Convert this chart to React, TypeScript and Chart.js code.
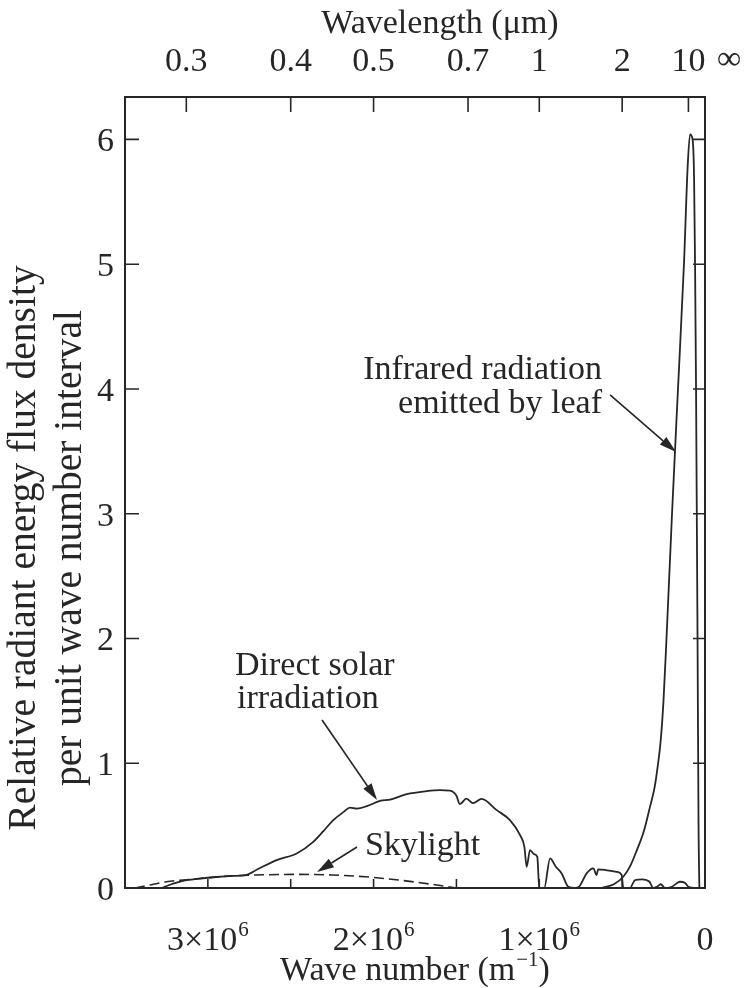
import React, { useEffect, useRef } from "react";
import { Chart, registerables } from "chart.js";

Chart.register(...registerables);

const FONT = "'Liberation Serif', 'Times New Roman', serif";
const INK = "#262626";

// Direct solar irradiation: wave number (m^-1) and relative flux density
const solarWaveNumber = [
  3.28e6, 3.22e6, 3.15e6, 3.05e6, 2.95e6, 2.85e6, 2.77e6, 2.7e6, 2.585e6, 2.464e6,
  2.364e6, 2.3e6, 2.243e6, 2.18e6, 2.142e6, 2.1e6, 2.041e6, 1.961e6, 1.9e6, 1.8e6,
  1.68e6, 1.6e6, 1.539e6, 1.5e6, 1.479e6, 1.44e6, 1.4e6, 1.348e6, 1.257e6, 1.177e6,
  1.116e6, 1.09e6, 1.076e6, 1.056e6, 1.03e6, 1.012e6, 1.0e6, 0.97e6, 0.935e6, 0.9e6,
  0.865e6, 0.825e6, 0.785e6, 0.76e6, 0.714e6, 0.674e6, 0.654e6, 0.645e6, 0.6e6, 0.533e6,
  0.503e6, 0.493e6, 0.453e6, 0.422e6, 0.38e6, 0.335e6, 0.312e6, 0.29e6, 0.267e6, 0.241e6,
  0.2e6, 0.151e6, 0.12e6, 0.1e6, 0.05e6,
];
const solarFlux = [
  0, 0.03, 0.058, 0.075, 0.088, 0.097, 0.104, 0.15, 0.224, 0.277,
  0.37, 0.46, 0.544, 0.61, 0.645, 0.637, 0.656, 0.698, 0.709, 0.752,
  0.776, 0.784, 0.78, 0.74, 0.672, 0.717, 0.68, 0.715, 0.624, 0.544,
  0.424, 0.33, 0.17, 0.304, 0.27, 0.25, 0, 0, 0.237, 0.17,
  0.117, 0.01, 0, 0.01, 0.117, 0.157, 0.104, 0.149, 0.144, 0.13,
  0.104, 0, 0, 0.064, 0.069, 0.05, 0, 0.01, 0.03, 0,
  0.01, 0.05, 0.04, 0.01, 0,
];

// Skylight
const skyWaveNumber = [3.44e6, 3.35e6, 3.25e6, 3.15e6, 3.0e6, 2.85e6, 2.65e6, 2.45e6, 2.25e6, 2.05e6, 1.85e6, 1.65e6, 1.5e6];
const skyFlux = [0, 0.024, 0.05, 0.064, 0.082, 0.098, 0.106, 0.109, 0.104, 0.09, 0.064, 0.03, 0];

// Infrared radiation emitted by leaf
const leafWaveNumber = [
  0.623e6, 0.55e6, 0.493e6, 0.45e6, 0.412e6, 0.37e6, 0.332e6, 0.305e6, 0.291e6, 0.2675e6,
  0.2505e6, 0.2323e6, 0.199e6, 0.163e6, 0.127e6, 0.104e6, 0.09e6, 0.075e6, 0.066e6, 0.06e6,
  0.054e6, 0.045e6, 0.039e6, 0.034e6,
];
const leafFlux = [
  0, 0.03, 0.09, 0.18, 0.3, 0.45, 0.65, 0.8, 0.92, 1.18,
  1.5, 2.0, 3.0, 4.0, 5.0, 5.8, 6.04, 6.0, 5.7, 5.0,
  4.0, 2.0, 0.5, 0,
];

// Axes
const yTickValues = [0, 1, 2, 3, 4, 5, 6];
const bottomTickValues = [0.5e6, 1.0e6, 1.5e6, 2.0e6, 2.5e6, 3.0e6];
const bottomLabelValues = [3e6, 2e6, 1e6, 0];
const bottomLabelBase = ["3\u00d710", "2\u00d710", "1\u00d710", "0"];
const bottomLabelExp = ["6", "6", "6", ""];
const topTickWaveNumbers = [3.13e6, 2.5e6, 2.0e6, 1.43e6, 1.0e6, 0.5e6, 0.1e6];
const topTickLabels = ["0.3", "0.4", "0.5", "0.7", "1", "2", "10"];
const topInfinityLabel = "\u221e";

// Annotations (data coordinates: wave number, flux)
const labelTexts = [
  { text: "Infrared radiation", x: 0.6216e6, y: 4.08, align: "right" },
  { text: "emitted by leaf", x: 0.6216e6, y: 3.807, align: "right" },
  { text: "Direct solar", x: 2.836e6, y: 1.707, align: "left" },
  { text: "irradiation", x: 2.824e6, y: 1.443, align: "left" },
  { text: "Skylight", x: 2.052e6, y: 0.2645, align: "left" },
];
const arrows = [
  { from: [0.573e6, 3.952], to: [0.175e6, 3.495] },
  { from: [2.311e6, 1.347], to: [1.979e6, 0.705] },
  { from: [2.1e6, 0.329], to: [2.341e6, 0.128] },
];

type Part = { t: string; sup?: boolean };

function drawParts(ctx: CanvasRenderingContext2D, parts: Part[], cx: number, baseline: number, size: number) {
  const supSize = Math.round(size * 0.62);
  const widths = parts.map((p) => {
    ctx.font = `${p.sup ? supSize : size}px ${FONT}`;
    return ctx.measureText(p.t).width + (p.sup ? 1 : 0);
  });
  const total = widths.reduce((a, b) => a + b, 0);
  let x = cx - total / 2;
  ctx.textAlign = "left";
  ctx.textBaseline = "alphabetic";
  parts.forEach((p, i) => {
    ctx.font = `${p.sup ? supSize : size}px ${FONT}`;
    ctx.fillText(p.t, x + (p.sup ? 1 : 0), p.sup ? baseline - size * 0.42 : baseline);
    x += widths[i];
  });
}

const overlay = {
  id: "overlay",
  afterDraw(chart: any) {
    const { ctx, chartArea: a, scales } = chart;
    const xs = scales.x;
    const ys = scales.y;
    ctx.save();
    ctx.strokeStyle = INK;
    ctx.fillStyle = INK;

    // frame
    ctx.lineWidth = 2;
    ctx.strokeRect(a.left, a.top, a.right - a.left, a.bottom - a.top);

    // inward ticks
    ctx.lineWidth = 1.6;
    ctx.beginPath();
    yTickValues.forEach((v) => {
      if (v === 0) return;
      const y = ys.getPixelForValue(v);
      ctx.moveTo(a.left, y);
      ctx.lineTo(a.left + 14, y);
      ctx.moveTo(a.right, y);
      ctx.lineTo(a.right - 12, y);
    });
    bottomTickValues.forEach((k) => {
      const x = xs.getPixelForValue(k);
      ctx.moveTo(x, a.bottom);
      ctx.lineTo(x, a.bottom - 9);
    });
    topTickWaveNumbers.forEach((k) => {
      const x = xs.getPixelForValue(k);
      ctx.moveTo(x, a.top);
      ctx.lineTo(x, a.top + 15);
    });
    ctx.stroke();

    // y tick labels
    ctx.font = `34px ${FONT}`;
    ctx.textAlign = "right";
    ctx.textBaseline = "alphabetic";
    yTickValues.forEach((v) => {
      ctx.fillText(String(v), a.left - 11, ys.getPixelForValue(v) + 12);
    });

    // bottom tick labels
    bottomLabelValues.forEach((k, i) => {
      const parts: Part[] = [{ t: bottomLabelBase[i] }];
      if (bottomLabelExp[i]) parts.push({ t: bottomLabelExp[i], sup: true });
      drawParts(ctx, parts, xs.getPixelForValue(k), a.bottom + 62, 34);
    });

    // top tick labels
    ctx.font = `34px ${FONT}`;
    ctx.textAlign = "center";
    topTickWaveNumbers.forEach((k, i) => {
      ctx.fillText(topTickLabels[i], xs.getPixelForValue(k), a.top - 26);
    });
    ctx.fillText(topInfinityLabel, xs.getPixelForValue(0) + 24, a.top - 28);

    // axis titles
    ctx.font = `34px ${FONT}`;
    ctx.textAlign = "center";
    ctx.fillText("Wavelength (\u03bcm)", 440, a.top - 64);
    drawParts(ctx, [{ t: "Wave number (m" }, { t: "\u22121", sup: true }, { t: ")" }], (a.left + a.right) / 2, a.bottom + 92, 34);

    ctx.save();
    ctx.translate(0, 548);
    ctx.rotate(-Math.PI / 2);
    ctx.font = `39.5px ${FONT}`;
    ctx.textAlign = "center";
    ctx.textBaseline = "middle";
    ctx.fillText("Relative radiant energy flux density", 0, 25);
    ctx.fillText("per unit wave number interval", 0, 71);
    ctx.restore();

    // annotation labels
    ctx.font = `34px ${FONT}`;
    ctx.textBaseline = "alphabetic";
    labelTexts.forEach((l) => {
      ctx.textAlign = l.align as CanvasTextAlign;
      ctx.fillText(l.text, xs.getPixelForValue(l.x), ys.getPixelForValue(l.y));
    });

    // arrows
    arrows.forEach((ar) => {
      const x1 = xs.getPixelForValue(ar.from[0]);
      const y1 = ys.getPixelForValue(ar.from[1]);
      const x2 = xs.getPixelForValue(ar.to[0]);
      const y2 = ys.getPixelForValue(ar.to[1]);
      const ang = Math.atan2(y2 - y1, x2 - x1);
      const len = 17;
      const hw = 5;
      const bx = x2 - len * Math.cos(ang);
      const by = y2 - len * Math.sin(ang);
      ctx.lineWidth = 1.6;
      ctx.beginPath();
      ctx.moveTo(x1, y1);
      ctx.lineTo(bx, by);
      ctx.stroke();
      ctx.beginPath();
      ctx.moveTo(x2, y2);
      ctx.lineTo(bx + hw * Math.sin(ang), by - hw * Math.cos(ang));
      ctx.lineTo(bx - hw * Math.sin(ang), by + hw * Math.cos(ang));
      ctx.closePath();
      ctx.fill();
    });

    ctx.restore();
  },
};

export default function App() {
  const canvasRef = useRef<HTMLCanvasElement | null>(null);

  useEffect(() => {
    if (!canvasRef.current) return;
    const toPoints = (xsArr: number[], ysArr: number[]) => xsArr.map((x, i) => ({ x, y: ysArr[i] }));
    const chart = new Chart(canvasRef.current, {
      type: "line",
      data: {
        datasets: [
          {
            label: "Direct solar irradiation",
            data: toPoints(solarWaveNumber, solarFlux),
            borderColor: INK,
            borderWidth: 1.8,
            pointRadius: 0,
            fill: false,
            cubicInterpolationMode: "monotone",
          },
          {
            label: "Skylight",
            data: toPoints(skyWaveNumber, skyFlux),
            borderColor: INK,
            borderWidth: 1.6,
            borderDash: [10, 5],
            pointRadius: 0,
            fill: false,
            cubicInterpolationMode: "monotone",
          },
          {
            label: "Infrared radiation emitted by leaf",
            data: toPoints(leafWaveNumber, leafFlux),
            borderColor: INK,
            borderWidth: 1.8,
            pointRadius: 0,
            fill: false,
            cubicInterpolationMode: "monotone",
          },
        ],
      },
      options: {
        animation: false,
        responsive: true,
        maintainAspectRatio: false,
        devicePixelRatio: 1,
        layout: { padding: { left: 125, right: 42, top: 97, bottom: 100 } },
        plugins: { legend: { display: false }, tooltip: { enabled: false } },
        scales: {
          x: { type: "linear", min: 0, max: 3.5e6, reverse: true, display: false },
          y: { type: "linear", min: 0, max: 6.34, display: false },
        },
      },
      plugins: [overlay],
    } as any);
    return () => chart.destroy();
  }, []);

  return (
    <div style={{ position: "fixed", left: 0, top: 0, width: 747, height: 988, background: "#ffffff" }}>
      <canvas ref={canvasRef} />
    </div>
  );
}
